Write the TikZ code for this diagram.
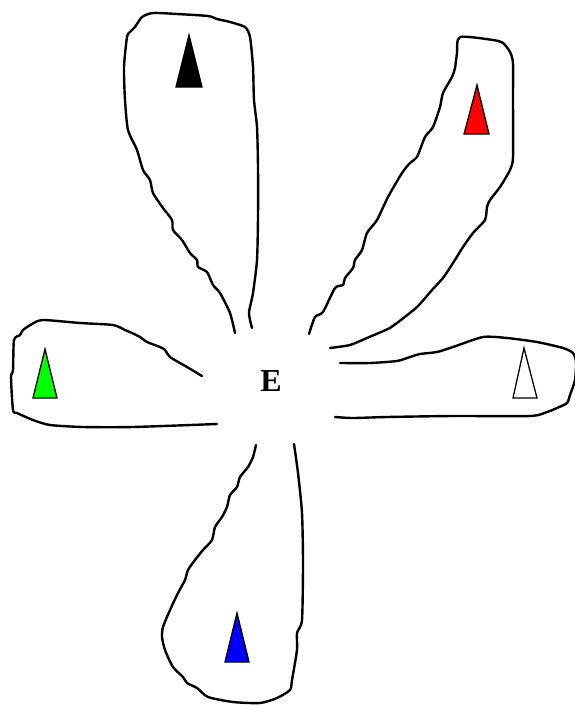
\documentclass[tikz,border=0pt]{standalone}
\usepackage{fontspec}
\setmainfont{Liberation Serif}
\begin{document}
\begin{tikzpicture}[x=1pt,y=-1pt,
  petal/.style={line width=2.4pt,line join=round,line cap=round},
  tri/.style={line width=1.3pt,line join=miter},
  lbl/.style={font=\bfseries\fontsize{32}{32}\selectfont,inner sep=0pt}]
\useasboundingbox (0,0) rectangle (575,705);
% top petal (black)
\draw[petal] plot[smooth,tension=0.4] coordinates {(235,333) (230,313) (220,293) (213,285) (207,272) (198,267) (197,260) (190,253) (182,240) (173,230) (172,220) (163,208) (153,193) (150,180) (143,170) (137,150) (128,130) (125,100) (124,67) (127,37) (130,32) (135,27) (142,17) (153,13) (177,14) (208,16) (217,19) (230,22) (245,27) (250,37) (253,67) (254,100) (257,127) (258,167) (258,217) (257,260) (253,293) (249,313) (252,328)};
\draw[tri,fill=black] (189,35) -- (202,87) -- (176,87) -- cycle;
% upper right petal (red)
\draw[petal] plot[smooth,tension=0.4] coordinates {(309,334) (315,317) (323,312) (335,288) (343,285) (345,278) (353,268) (355,260) (362,250) (367,233) (377,220) (388,197) (402,173) (410,163) (417,157) (425,137) (433,127) (440,107) (443,93) (452,77) (455,68) (457,53) (460,37) (493,40) (503,43) (510,52) (513,63) (513,97) (513,157) (510,170) (500,187) (490,200) (487,207) (485,220) (473,233) (463,247) (453,263) (443,278) (432,290) (417,307) (397,323) (390,328) (367,338) (350,345) (330,348)};
\draw[tri,fill=red] (477,85) -- (489,134) -- (464,134) -- cycle;
% left petal (green)
\draw[petal] plot[smooth,tension=0.4] coordinates {(202,376) (187,367) (170,357) (165,350) (160,347) (147,342) (140,337) (132,333) (125,330) (113,325) (80,323) (43,320) (32,324) (23,330) (20,335) (14,340) (13,370) (11,377) (13,410) (17,413) (33,420) (50,425) (83,427) (133,427) (217,424)};
\draw[tri,fill=green] (45,349) -- (57,398) -- (33,398) -- cycle;
% right petal (white)
\draw[petal] plot[smooth,tension=0.4] coordinates {(340,363) (370,363) (397,361) (410,357) (420,354) (437,352) (453,347) (483,337) (507,338) (537,342) (563,348) (573,353) (576,362) (575,380) (570,395) (567,403) (557,408) (547,412) (530,416) (453,416) (387,417) (353,418) (335,417)};
\draw[tri,fill=white] (524,348) -- (537,398) -- (513,398) -- cycle;
% bottom petal (blue)
\draw[petal] plot[smooth,tension=0.4] coordinates {(256,445) (253,457) (248,467) (240,477) (237,487) (230,495) (227,507) (222,517) (215,527) (212,540) (203,550) (195,560) (188,570) (185,580) (178,593) (170,610) (163,627) (162,637) (165,650) (173,667) (183,677) (187,683) (197,688) (208,697) (233,702) (260,703) (277,698) (290,690) (292,680) (297,650) (297,633) (302,620) (303,563) (302,513) (298,473) (294,444)};
\draw[tri,fill=blue] (237,613) -- (249,662) -- (225,662) -- cycle;
% centre label
\node[lbl] (E) at (271,381) {E};
\end{tikzpicture}
\end{document}
